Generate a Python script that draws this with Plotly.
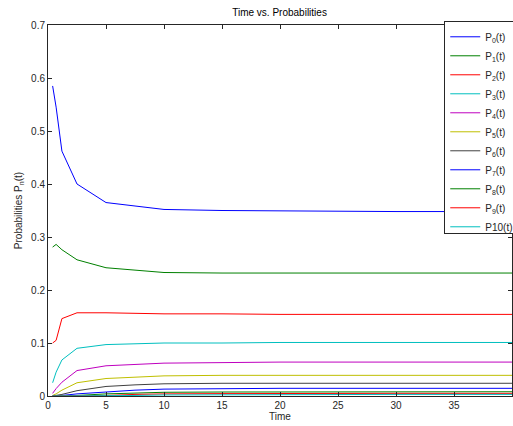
import plotly.graph_objects as go

times = [0.4, 0.7, 1.2, 2.5, 5, 7.5, 10, 15, 20, 30, 40]
P0 = [0.585, 0.545, 0.462, 0.400, 0.365, 0.358, 0.352, 0.350, 0.349, 0.348, 0.348]
P1 = [0.281, 0.286, 0.276, 0.257, 0.242, 0.237, 0.233, 0.232, 0.232, 0.232, 0.232]
P2 = [0.100, 0.105, 0.146, 0.157, 0.157, 0.156, 0.155, 0.155, 0.154, 0.154, 0.154]
P3 = [0.025, 0.045, 0.068, 0.090, 0.097, 0.099, 0.100, 0.100, 0.101, 0.101, 0.101]
P4 = [0.005, 0.014, 0.026, 0.048, 0.057, 0.060, 0.062, 0.063, 0.064, 0.064, 0.064]
P5 = [0.001, 0.004, 0.011, 0.025, 0.033, 0.036, 0.038, 0.039, 0.039, 0.039, 0.039]
P6 = [0.000, 0.001, 0.003, 0.010, 0.018, 0.021, 0.023, 0.024, 0.024, 0.024, 0.024]
P7 = [0.000, 0.000, 0.001, 0.004, 0.008, 0.011, 0.013, 0.014, 0.0145, 0.0145, 0.0145]
P8 = [0.000, 0.000, 0.000, 0.001, 0.004, 0.006, 0.007, 0.0075, 0.0078, 0.008, 0.008]
P9 = [0.000, 0.000, 0.000, 0.000, 0.001, 0.003, 0.004, 0.0045, 0.005, 0.005, 0.005]
P10 = [0.000, 0.000, 0.000, 0.000, 0.000, 0.001, 0.002, 0.0025, 0.003, 0.003, 0.003]

series = [P0, P1, P2, P3, P4, P5, P6, P7, P8, P9, P10]
names = ["P<sub>%d</sub>(t)" % i for i in range(10)] + ["P10(t)"]
colors = ["#0000ff", "#008000", "#ff0000", "#00bfbf", "#bf00bf", "#bfbf00",
          "#404040", "#0000ff", "#008000", "#ff0000", "#00bfbf"]

fig = go.Figure()
for vals, name, col in zip(series, names, colors):
    fig.add_trace(go.Scatter(x=times, y=vals, mode="lines", name=name,
                             line=dict(color=col, width=1)))

axis_common = dict(showline=True, linecolor="#262626", linewidth=1, mirror="ticks",
                   ticks="inside", ticklen=4, tickcolor="#262626", showgrid=False,
                   zeroline=False, tickfont=dict(size=10, color="#262626"),
                   automargin=False)

fig.update_layout(
    width=513, height=426,
    margin=dict(l=48, r=1, t=25, b=30, autoexpand=False),
    paper_bgcolor="white", plot_bgcolor="white",
    font=dict(family="Liberation Sans, Arial, sans-serif", size=10, color="#262626"),
    title=dict(text="Time vs. Probabilities", x=0.545, xanchor="center", y=0.97, yanchor="middle",
               font=dict(size=10, color="#000000")),
    xaxis=dict(range=[0, 40], tickvals=[0, 5, 10, 15, 20, 25, 30, 35, 40],
               title=dict(text="Time", standoff=2, font=dict(size=10)), **axis_common),
    yaxis=dict(range=[0, 0.7], tickvals=[0, 0.1, 0.2, 0.3, 0.4, 0.5, 0.6, 0.7],
               ticktext=["0", "0.1", "0.2", "0.3", "0.4", "0.5", "0.6", "0.7"],
               title=dict(text="Probabilities P<sub>n</sub>(t)", standoff=6, font=dict(size=10)),
               **axis_common),
    legend=dict(x=0.854, xanchor="left", y=1.01, yanchor="top", bgcolor="white",
                bordercolor="#262626", borderwidth=1, font=dict(size=10),
                itemwidth=30, tracegroupgap=0),
    showlegend=True,
)

fig.write_html("out.html", config={"displayModeBar": False},
               post_script="document.body.style.margin='0';document.body.style.overflow='hidden';")
